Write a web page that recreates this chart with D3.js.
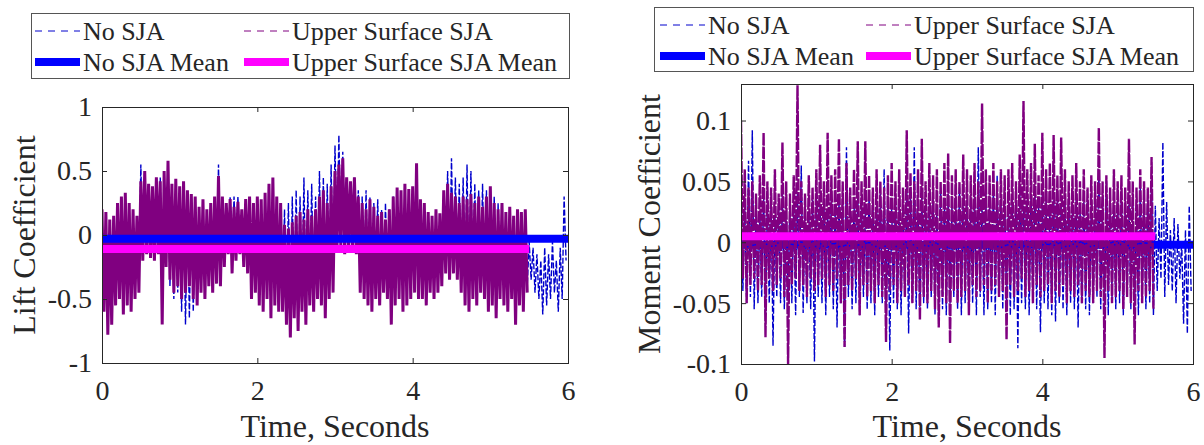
<!DOCTYPE html>
<html>
<head>
<meta charset="utf-8">
<script src="https://cdn.jsdelivr.net/npm/d3@7"></script>
<style>
body{margin:0;background:#fff;}
text{font-family:"Liberation Serif","Times New Roman",serif;fill:#262626;}
</style>
</head>
<body>
<svg id="chart" width="1204" height="445"></svg>
<script>
// one peak and one trough for every 0.05 s
var dt = 0.05;
var xTicks = [0, 2, 4, 6];

// Lift coefficient
var liftSjaHi = [0.2,0.18,0.12,0.15,0.25,0.3,0.33,0.25,0.2,0.15,
 0.42,0.5,0.4,0.38,0.45,0.42,0.5,0.58,0.4,0.44,
 0.38,0.42,0.35,0.32,0.3,0.22,0.28,0.2,0.25,0.3,
 0.46,0.3,0.25,0.28,0.22,0.26,0.2,0.28,0.3,0.25,
 0.3,0.28,0.33,0.4,0.45,0.3,0.25,0.08,0.05,0.1,
 0.15,0.18,0.12,0.2,0.15,0.2,0.3,0.35,0.25,0.38,
 0.5,0.55,0.6,0.45,0.42,0.45,0.3,0.25,0.2,0.28,
 0.22,0.15,0.18,0.12,0.2,0.3,0.37,0.35,0.4,0.36,
 0.38,0.56,0.28,0.25,0.18,0.15,0.2,0.17,0.35,0.4,
 0.33,0.3,0.25,0.3,0.28,0.32,0.25,0.3,0.22,0.3,
 0.38,0.25,0.2,0.25,0.18,0.22,0.15,0.2,0.18,0.2];
var liftSjaLo = [-0.6,-0.78,-0.7,-0.55,-0.5,-0.62,-0.55,-0.6,-0.5,-0.45,
 -0.2,-0.15,-0.18,-0.2,-0.15,-0.7,-0.25,-0.35,-0.45,-0.4,
 -0.5,-0.45,-0.4,-0.5,-0.55,-0.45,-0.5,-0.4,-0.45,-0.38,
 -0.4,-0.25,-0.15,-0.3,-0.2,-0.15,-0.25,-0.3,-0.5,-0.45,
 -0.55,-0.6,-0.5,-0.65,-0.55,-0.6,-0.6,-0.7,-0.8,-0.65,
 -0.75,-0.6,-0.7,-0.55,-0.6,-0.5,-0.55,-0.65,-0.5,-0.45,
 -0.12,-0.1,-0.15,-0.1,-0.12,-0.15,-0.45,-0.5,-0.55,-0.6,
 -0.5,-0.55,-0.45,-0.5,-0.7,-0.55,-0.5,-0.6,-0.55,-0.5,
 -0.45,-0.5,-0.5,-0.55,-0.45,-0.5,-0.45,-0.4,-0.3,-0.35,
 -0.3,-0.35,-0.45,-0.55,-0.6,-0.5,-0.55,-0.45,-0.5,-0.6,
 -0.55,-0.65,-0.5,-0.55,-0.6,-0.5,-0.7,-0.55,-0.6,-0.45];
var liftNoHi = [0.2,0.1,0.1,0.12,0.2,0.25,0.28,0.2,0.15,0.12,
 0.55,0.45,0.35,0.3,0.45,0.45,0.4,0.5,0.35,0.4,
 0.33,0.38,0.3,0.28,0.25,0.2,0.22,0.15,0.2,0.25,
 0.55,0.25,0.2,0.3,0.3,0.3,0.15,0.22,0.25,0.2,
 0.25,0.22,0.3,0.35,0.4,0.25,0.2,0.2,0.25,0.3,
 0.35,0.3,0.45,0.35,0.4,0.3,0.5,0.45,0.4,0.55,
 0.7,0.78,0.65,0.45,0.4,0.45,0.35,0.3,0.35,0.3,
 0.25,0.28,0.2,0.25,0.2,0.3,0.3,0.3,0.35,0.3,
 0.35,0.5,0.25,0.2,0.15,0.12,0.18,0.15,0.3,0.5,
 0.6,0.45,0.4,0.45,0.55,0.5,0.4,0.35,0.4,0.35,
 0.3,0.3,0.25,0.2,0.15,0.2,0.12,0.15,0.15,0.1,
 -0.05,-0.1,-0.15,-0.2,-0.1,-0.15,-0.05,-0.2,-0.1,0.3];
var liftNoLo = [-0.5,-0.65,-0.6,-0.5,-0.45,-0.55,-0.5,-0.55,-0.45,-0.4,
 -0.18,-0.12,-0.15,-0.18,-0.12,-0.6,-0.22,-0.4,-0.5,-0.45,
 -0.6,-0.7,-0.65,-0.6,-0.5,-0.4,-0.45,-0.35,-0.4,-0.35,
 -0.35,-0.2,-0.12,-0.25,-0.18,-0.12,-0.2,-0.25,-0.45,-0.4,
 -0.5,-0.55,-0.45,-0.6,-0.5,-0.55,-0.55,-0.65,-0.7,-0.6,
 -0.65,-0.55,-0.6,-0.5,-0.55,-0.45,-0.5,-0.6,-0.45,-0.4,
 -0.1,-0.08,-0.12,-0.08,-0.1,-0.12,-0.4,-0.45,-0.5,-0.55,
 -0.45,-0.5,-0.4,-0.45,-0.6,-0.5,-0.45,-0.55,-0.5,-0.45,
 -0.4,-0.45,-0.45,-0.5,-0.4,-0.45,-0.4,-0.35,-0.25,-0.3,
 -0.25,-0.3,-0.4,-0.5,-0.55,-0.45,-0.5,-0.4,-0.45,-0.55,
 -0.5,-0.6,-0.45,-0.5,-0.55,-0.45,-0.6,-0.5,-0.55,-0.4,
 -0.35,-0.45,-0.5,-0.62,-0.55,-0.5,-0.45,-0.6,-0.5,-0.2];
var liftNoMean = -0.03;
var liftSjaMean = -0.11;

// Moment coefficient
var momSjaHi = [0.1,0.06,0.045,0.05,0.04,0.055,0.09,0.05,0.045,0.06,
 0.04,0.082,0.05,0.04,0.055,0.129,0.05,0.04,0.055,0.045,
 0.06,0.08,0.05,0.09,0.055,0.06,0.085,0.05,0.065,0.045,
 0.06,0.083,0.05,0.083,0.055,0.045,0.06,0.05,0.045,0.055,
 0.065,0.05,0.06,0.045,0.092,0.057,0.05,0.06,0.085,0.05,
 0.065,0.055,0.06,0.05,0.065,0.073,0.055,0.06,0.05,0.072,
 0.06,0.055,0.065,0.05,0.114,0.06,0.055,0.065,0.05,0.06,
 0.055,0.06,0.065,0.05,0.072,0.116,0.06,0.065,0.081,0.055,
 0.09,0.06,0.065,0.088,0.055,0.086,0.06,0.05,0.055,0.065,
 0.05,0.06,0.045,0.055,0.05,0.094,0.05,0.055,0.045,0.06,
 0.05,0.055,0.045,0.085,0.05,0.045,0.06,0.05,0.045,0.07];
var momSjaLo = [-0.03,-0.05,-0.035,-0.03,-0.04,-0.035,-0.078,-0.03,-0.04,-0.035,
 -0.03,-0.045,-0.1,-0.035,-0.03,-0.04,-0.035,-0.045,-0.03,-0.04,
 -0.035,-0.03,-0.045,-0.035,-0.04,-0.03,-0.05,-0.086,-0.035,-0.04,
 -0.03,-0.06,-0.035,-0.045,-0.04,-0.05,-0.035,-0.045,-0.082,-0.04,
 -0.035,-0.05,-0.04,-0.045,-0.035,-0.05,-0.04,-0.064,-0.045,-0.05,
 -0.04,-0.055,-0.07,-0.045,-0.05,-0.083,-0.04,-0.05,-0.045,-0.04,
 -0.06,-0.035,-0.045,-0.04,-0.035,-0.05,-0.04,-0.035,-0.045,-0.04,
 -0.08,-0.035,-0.045,-0.04,-0.03,-0.045,-0.04,-0.05,-0.035,-0.045,
 -0.04,-0.035,-0.05,-0.04,-0.045,-0.035,-0.05,-0.04,-0.045,-0.035,
 -0.05,-0.04,-0.045,-0.05,-0.04,-0.045,-0.095,-0.04,-0.05,-0.045,
 -0.04,-0.055,-0.045,-0.05,-0.084,-0.04,-0.05,-0.045,-0.04,-0.055];
var momNoHi = [0.05,0.03,0.067,0.092,0.03,0.025,0.04,0.03,0.035,0.02,
 0.03,0.04,0.025,0.035,0.03,0.04,0.063,0.03,0.025,0.035,
 0.04,0.03,0.035,0.025,0.04,0.03,0.035,0.04,0.078,0.03,
 0.035,0.04,0.03,0.025,0.04,0.035,0.03,0.04,0.06,0.035,
 0.03,0.04,0.035,0.03,0.045,0.04,0.078,0.035,0.04,0.03,
 0.035,0.04,0.03,0.045,0.035,0.04,0.03,0.035,0.045,0.04,
 0.035,0.03,0.04,0.078,0.035,0.04,0.03,0.045,0.055,0.035,
 0.04,0.03,0.035,0.045,0.04,0.03,0.035,0.04,0.045,0.03,
 0.04,0.035,0.03,0.045,0.04,0.03,0.035,0.04,0.03,0.035,
 0.03,0.04,0.035,0.03,0.04,0.06,0.035,0.05,0.04,0.03,
 0.035,0.04,0.03,0.035,0.04,0.03,0.045,0.035,0.04,0.05,
 0.03,0.02,0.082,0.033,0.01,0.02,0.015,0.0,0.01,0.03];
var momNoLo = [-0.04,-0.05,-0.045,-0.055,-0.05,-0.045,-0.06,-0.05,-0.085,-0.045,
 -0.05,-0.055,-0.045,-0.05,-0.06,-0.045,-0.058,-0.05,-0.055,-0.098,
 -0.045,-0.05,-0.06,-0.045,-0.055,-0.07,-0.05,-0.086,-0.045,-0.055,
 -0.05,-0.06,-0.045,-0.055,-0.05,-0.06,-0.045,-0.05,-0.055,-0.089,
 -0.05,-0.055,-0.06,-0.045,-0.075,-0.05,-0.055,-0.06,-0.05,-0.055,
 -0.045,-0.06,-0.05,-0.055,-0.06,-0.05,-0.045,-0.055,-0.06,-0.05,
 -0.055,-0.05,-0.06,-0.045,-0.06,-0.055,-0.05,-0.06,-0.045,-0.055,
 -0.05,-0.06,-0.055,-0.087,-0.05,-0.055,-0.06,-0.05,-0.055,-0.074,
 -0.05,-0.055,-0.06,-0.065,-0.05,-0.055,-0.06,-0.05,-0.055,-0.07,
 -0.05,-0.055,-0.06,-0.05,-0.045,-0.055,-0.05,-0.06,-0.045,-0.055,
 -0.05,-0.06,-0.045,-0.055,-0.05,-0.06,-0.045,-0.055,-0.05,-0.06,
 -0.04,-0.03,-0.045,-0.035,-0.04,-0.05,-0.03,-0.067,-0.075,-0.04];
var momNoMean = -0.002;
var momSjaMean = 0.005;

var legendNames = ["No SJA", "Upper Surface SJA", "No SJA Mean", "Upper Surface SJA Mean"];

var blueData = "#0000cc", purple = "#800080", blueMean = "#0000ff", magenta = "#ff00ff";
var serif = '"Liberation Serif","Times New Roman",serif';

/* peaks and troughs -> one zig-zag trace */
function trace(hi, lo){
  var pts = [];
  hi.forEach(function(h, i){
    pts.push([i*dt, h]);
    pts.push([i*dt + dt/2, lo[i]]);
  });
  return pts;
}

var panels = [
  {id:"lift", left:102, right:568, top:107, bottom:363, yDomain:[-1,1], yTicks:[-1,-0.5,0,0.5,1],
   yLabel:"Lift Coefficient", labelX:35, sjaWidth:3, sjaDash:null, meanOver:true,
   noHi:liftNoHi, noLo:liftNoLo, sjaHi:liftSjaHi, sjaLo:liftSjaLo, noMean:liftNoMean, sjaMean:liftSjaMean,
   leg:{x:31, y:13, w:538, h:65, col:[35, 244], row:[31, 62]}},
  {id:"moment", left:741, right:1193, top:84, bottom:364, yDomain:[-0.1,0.13], yTicks:[-0.1,-0.05,0,0.05,0.1],
   yLabel:"Moment Coefficient", labelX:660, sjaWidth:2.4, sjaDash:"12,1.5", meanOver:false,
   noHi:momNoHi, noLo:momNoLo, sjaHi:momSjaHi, sjaLo:momSjaLo, noMean:momNoMean, sjaMean:momSjaMean,
   leg:{x:654, y:7, w:539, h:64, col:[660, 866], row:[25, 56]}}
];

var svg = d3.select("#chart");
var fmt = function(d){ return String(d); };

panels.forEach(function(p){
  var x = d3.scaleLinear().domain([0, 6]).range([p.left, p.right]);
  var y = d3.scaleLinear().domain(p.yDomain).range([p.bottom, p.top]);
  var line = d3.line().x(d=>x(d[0])).y(d=>y(d[1]));

  svg.append("clipPath").attr("id", "clip-" + p.id)
    .append("rect").attr("x", p.left).attr("y", p.top)
    .attr("width", p.right - p.left).attr("height", p.bottom - p.top);

  var plot = svg.append("g").attr("clip-path", "url(#clip-" + p.id + ")");

  plot.append("path").datum(trace(p.noHi, p.noLo)).attr("d", line)
    .attr("fill", "none").attr("stroke", blueData).attr("stroke-width", 1.4)
    .attr("stroke-dasharray", "6,2");
  var noMeanLine = plot.append("path").datum([[0, p.noMean], [6, p.noMean]]).attr("d", line)
    .attr("stroke", blueMean).attr("stroke-width", 8);
  plot.append("path").datum(trace(p.sjaHi, p.sjaLo)).attr("d", line)
    .attr("fill", "none").attr("stroke", purple).attr("stroke-width", p.sjaWidth)
    .attr("stroke-dasharray", p.sjaDash);
  if (p.meanOver) noMeanLine.raise();
  plot.append("path").datum([[0, p.sjaMean], [5.5, p.sjaMean]]).attr("d", line)
    .attr("stroke", magenta).attr("stroke-width", 8);

  // axes with inward ticks, mirrored on top and right
  var gx = svg.append("g").attr("transform", "translate(0," + p.bottom + ")")
    .call(d3.axisBottom(x).tickValues(xTicks).tickFormat(fmt).tickSizeInner(-5).tickSizeOuter(0).tickPadding(17));
  var gy = svg.append("g").attr("transform", "translate(" + p.left + ",0)")
    .call(d3.axisLeft(y).tickValues(p.yTicks).tickFormat(fmt).tickSizeInner(-5).tickSizeOuter(0).tickPadding(10));
  var gt = svg.append("g").attr("transform", "translate(0," + p.top + ")")
    .call(d3.axisTop(x).tickValues(xTicks).tickFormat("").tickSizeInner(-5).tickSizeOuter(0));
  var gr = svg.append("g").attr("transform", "translate(" + p.right + ",0)")
    .call(d3.axisRight(y).tickValues(p.yTicks).tickFormat("").tickSizeInner(-5).tickSizeOuter(0));
  [gx, gy, gt, gr].forEach(function(g){
    g.attr("font-family", serif).attr("font-size", 28);
    g.select(".domain").remove();
    g.selectAll("line").attr("stroke", "#262626");
    g.selectAll("text").style("font-family", serif).style("font-size", "28px").attr("fill", "#262626");
  });

  svg.append("rect").attr("x", p.left + 0.5).attr("y", p.top + 0.5)
    .attr("width", p.right - p.left).attr("height", p.bottom - p.top)
    .attr("fill", "none").attr("stroke", "#262626").attr("stroke-width", 1);

  svg.append("text").attr("x", (p.left + p.right)/2).attr("y", 437)
    .attr("text-anchor", "middle").attr("font-size", 32).text("Time, Seconds");
  svg.append("text").attr("transform", "translate(" + p.labelX + "," + (p.top + p.bottom)/2 + ") rotate(-90)")
    .attr("text-anchor", "middle").attr("font-size", 32).text(p.yLabel);

  // legend
  var L = p.leg;
  var lg = svg.append("g");
  lg.append("rect").attr("x", L.x + 0.5).attr("y", L.y + 0.5).attr("width", L.w).attr("height", L.h)
    .attr("fill", "#fff").attr("stroke", "#555").attr("stroke-width", 1);
  var styles = [
    {c:blueData, w:1, dash:"7,6"}, {c:purple, w:1, dash:"7,6"},
    {c:blueMean, w:8, dash:null}, {c:magenta, w:8, dash:null}
  ];
  legendNames.forEach(function(name, i){
    var cx = L.col[i % 2], cy = L.row[Math.floor(i / 2)];
    lg.append("line").attr("x1", cx).attr("x2", cx + 45).attr("y1", cy).attr("y2", cy)
      .attr("stroke", styles[i].c).attr("stroke-width", styles[i].w)
      .attr("stroke-dasharray", styles[i].dash);
    lg.append("text").attr("x", cx + 48).attr("y", cy + 9).attr("font-size", 26)
      .attr("fill", "#000").text(name);
  });
});
</script>
</body>
</html>
